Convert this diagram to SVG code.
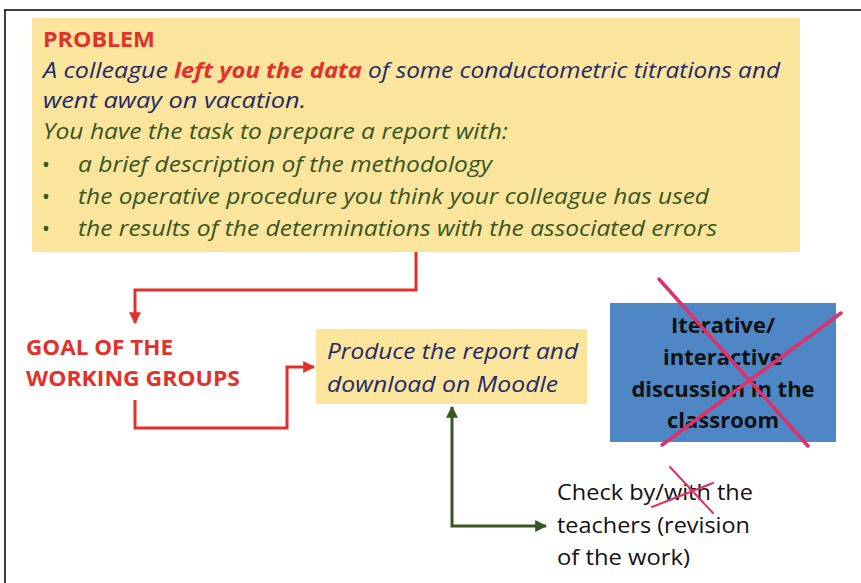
<svg xmlns="http://www.w3.org/2000/svg" width="861" height="583" viewBox="0 0 861 583">
<defs>
<style>
text{font-family:"Open Sans","Liberation Sans",sans-serif;font-size:21px}
.red{fill:#e2312b;font-weight:bold}
.navy{fill:#1f2a6b;font-style:italic}
.green{fill:#375623;font-style:italic}
.blk{fill:#111;font-weight:bold;text-anchor:middle;font-size:22px}
.plain{fill:#111}
.rc{fill:none;stroke:#e2312b;stroke-width:3}
.gc{fill:none;stroke:#375623;stroke-width:3}
.x{stroke:#e0306a;stroke-width:3.5;stroke-linecap:round;fill:none}
</style>
<marker id="ar" viewBox="0 0 10 10" refX="9" refY="5" markerWidth="4" markerHeight="4" orient="auto"><path d="M0,0L10,5L0,10z" fill="#e2312b"/></marker>
<marker id="ag" viewBox="0 0 10 10" refX="9" refY="5" markerWidth="4" markerHeight="4" orient="auto-start-reverse"><path d="M0,0L10,5L0,10z" fill="#375623"/></marker>
</defs>
<rect width="861" height="583" fill="#fff"/>
<path d="M4,10H861M5,10V583" stroke="#000" stroke-width="1.5" fill="none"/>
<g id="problem">
<rect x="32" y="18" width="768" height="234" fill="#fbe49b"/>
<text x="43" y="47" class="red" textLength="112" lengthAdjust="spacingAndGlyphs">PROBLEM</text>
<text x="43" y="78" class="navy" textLength="125" lengthAdjust="spacingAndGlyphs">A colleague</text>
<text x="174" y="78" class="red" style="font-style:italic" textLength="188" lengthAdjust="spacingAndGlyphs">left you the data</text>
<text x="368" y="78" class="navy" textLength="412" lengthAdjust="spacingAndGlyphs">of some conductometric titrations and</text>
<text x="43" y="108" class="navy" textLength="263" lengthAdjust="spacingAndGlyphs">went away on  vacation.</text>
<text x="43" y="139" class="green" textLength="465" lengthAdjust="spacingAndGlyphs">You have the task to prepare a report with:</text>
<text x="42" y="172" class="green" style="font-style:normal">•</text>
<text x="78" y="172" class="green" textLength="414" lengthAdjust="spacingAndGlyphs">a brief description of the methodology</text>
<text x="42" y="204" class="green" style="font-style:normal">•</text>
<text x="78" y="204" class="green" textLength="631" lengthAdjust="spacingAndGlyphs">the operative procedure you think your colleague has used</text>
<text x="42" y="236" class="green" style="font-style:normal">•</text>
<text x="78" y="236" class="green" textLength="639" lengthAdjust="spacingAndGlyphs">the results of the determinations with the associated errors</text>
</g>
<g id="goal">
<text x="26" y="355" class="red" textLength="147" lengthAdjust="spacingAndGlyphs">GOAL OF THE</text>
<text x="26" y="386" class="red" textLength="214" lengthAdjust="spacingAndGlyphs">WORKING GROUPS</text>
</g>
<g id="produce">
<rect x="316" y="329" width="271" height="75" fill="#fbe49b"/>
<text x="327" y="359" class="navy" textLength="251" lengthAdjust="spacingAndGlyphs">Produce the report and</text>
<text x="327" y="392" class="navy" textLength="231" lengthAdjust="spacingAndGlyphs">download on Moodle</text>
</g>
<g id="discussion">
<rect x="610" y="303" width="226" height="139" fill="#4f86c6"/>
<text x="723" y="333" class="blk">Iterative/</text>
<text x="723" y="365" class="blk">interactive</text>
<text x="723" y="397" class="blk" textLength="183" lengthAdjust="spacingAndGlyphs">discussion in the</text>
<text x="723" y="428" class="blk">classroom</text>
<path class="x" d="M659,279L808,446M841,313L662,445"/>
</g>
<g id="check">
<text x="557" y="500" class="plain" textLength="196" lengthAdjust="spacingAndGlyphs">Check by/with the</text>
<text x="557" y="533" class="plain" textLength="193" lengthAdjust="spacingAndGlyphs">teachers (revision</text>
<text x="557" y="565" class="plain" textLength="133" lengthAdjust="spacingAndGlyphs">of the work)</text>
<path class="x" style="stroke-width:2" d="M670,467L713,513M713,483L652,507"/>
</g>
<g id="connectors">
<path class="rc" d="M416,252V290H135V323" marker-end="url(#ar)"/>
<path class="rc" d="M135,400V428H287V367H314" marker-end="url(#ar)"/>
<path class="gc" d="M452,407V526H546" marker-start="url(#ag)" marker-end="url(#ag)"/>
</g>
</svg>
